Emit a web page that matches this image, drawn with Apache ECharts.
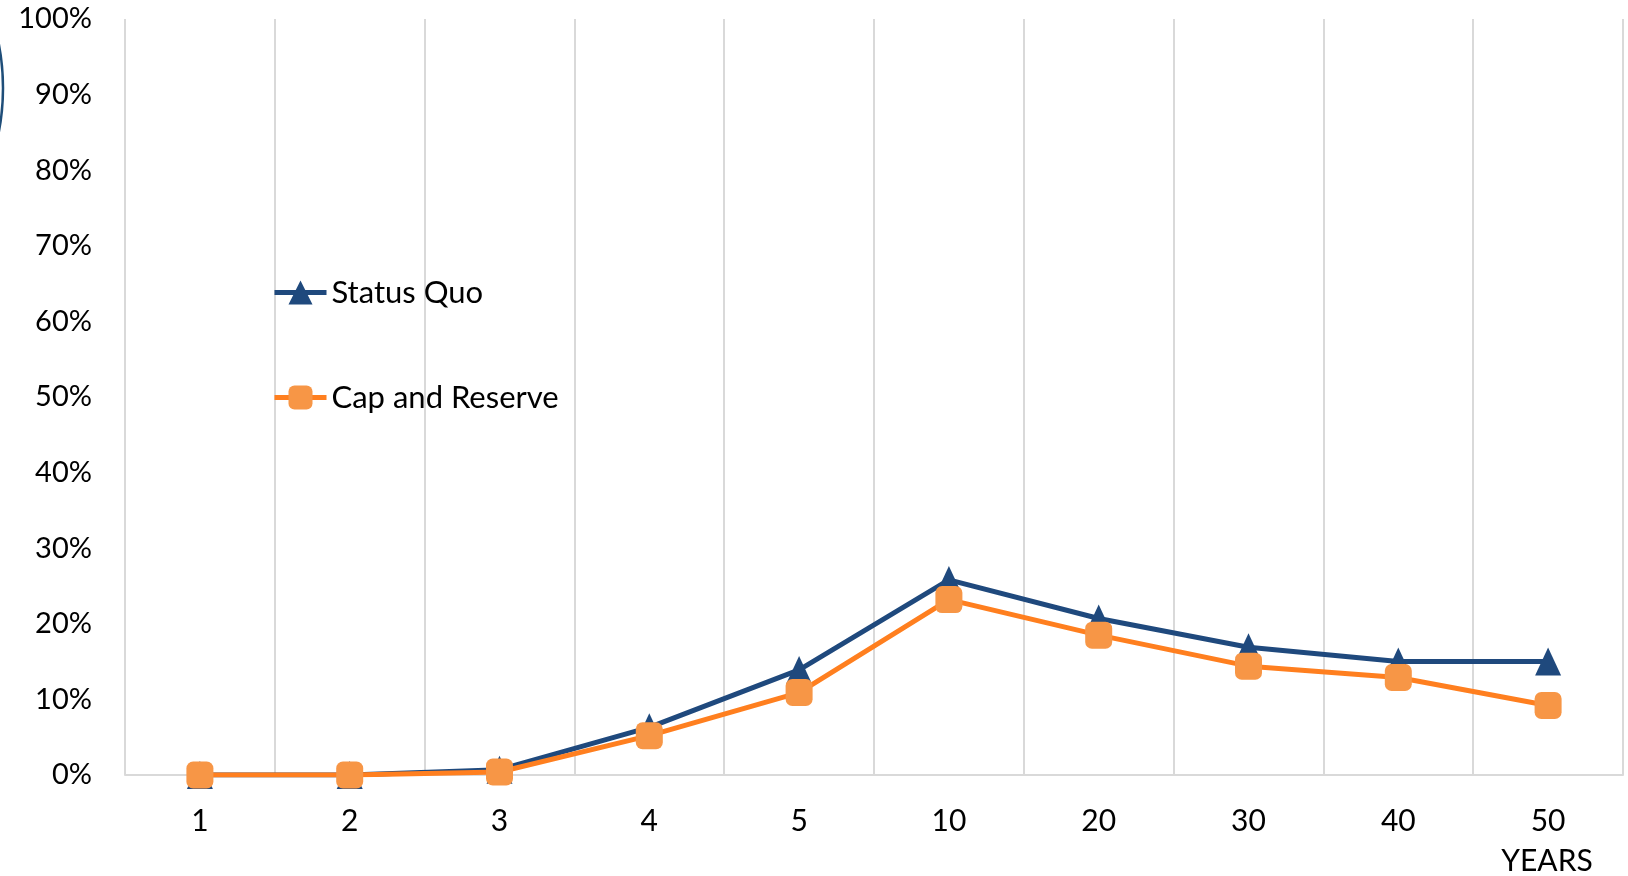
<!DOCTYPE html>
<html>
<head>
<meta charset="utf-8">
<script src="https://cdn.jsdelivr.net/npm/echarts@6/dist/echarts.min.js"></script>
<style>
    html, body { margin: 0; padding: 0; background: #fff; }
    #chart { width: 1628px; height: 876px; }
</style>
</head>
<body>
<div id="chart"></div>
<script>
// 数据
var years = ['1', '2', '3', '4', '5', '10', '20', '30', '40', '50'];
var statusQuo = [0, 0, 0.7, 6.3, 13.9, 25.8, 20.7, 16.9, 15.0, 15.0];
var capReserve = [0, 0, 0.4, 5.2, 10.9, 23.2, 18.5, 14.4, 12.9, 9.2];
var yTicks = [0, 10, 20, 30, 40, 50, 60, 70, 80, 90, 100];

var FONT = 'Lato, "Noto Sans", sans-serif';
var chart = echarts.init(document.getElementById('chart'));

var option = {
    backgroundColor: '#fff',
    animation: false,
    grid: {
        left: 125,
        right: 5,
        top: 19,
        bottom: 101
    },
    legend: {
        orient: 'vertical',
        left: 267,
        top: 272,
        itemWidth: 52,
        itemHeight: 30,
        itemGap: 74,
        lineStyle: { width: 5 },
        textStyle: {
            fontFamily: FONT,
            fontSize: 31,
            color: '#000'
        },
        data: ['Status Quo', 'Cap and Reserve']
    },
    xAxis: {
        type: 'category',
        data: years,
        boundaryGap: true,
        axisLine: { lineStyle: { color: '#d9d9d9', width: 2 } },
        axisTick: { show: false },
        axisLabel: {
            fontFamily: FONT,
            fontSize: 30,
            color: '#000',
            margin: 31
        },
        splitLine: {
            show: true,
            lineStyle: { color: '#d9d9d9', width: 2 }
        }
    },
    yAxis: {
        type: 'value',
        min: yTicks[0],
        max: yTicks[yTicks.length - 1],
        interval: 10,
        axisLine: { show: false },
        axisTick: { show: false },
        splitLine: { show: false },
        axisLabel: {
            fontFamily: FONT,
            fontSize: 29,
            color: '#000',
            margin: 33,
            formatter: '{value}%'
        }
    },
    graphic: [{
        type: 'text',
        x: 1547,
        y: 846,
        style: {
            text: 'YEARS',
            fontFamily: FONT,
            fontSize: 30,
            fill: '#000',
            align: 'center'
        }
    }, {
        type: 'circle',
        shape: { cx: -230, cy: 88, r: 233 },
        style: { fill: 'none', stroke: '#1f4e79', lineWidth: 2.5 },
        silent: true
    }],
    series: [{
        name: 'Status Quo',
        type: 'line',
        data: statusQuo,
        symbol: 'triangle',
        symbolSize: [26, 28],
        lineStyle: { color: '#1f497d', width: 5 },
        itemStyle: { color: '#1f497d' },
        z: 2
    }, {
        name: 'Cap and Reserve',
        type: 'line',
        data: capReserve,
        symbol: 'roundRect',
        symbolSize: 27,
        lineStyle: { color: '#ff7f1f', width: 5 },
        itemStyle: { color: '#f79646' },
        z: 3
    }]
};
chart.setOption(option);
</script>
</body>
</html>
